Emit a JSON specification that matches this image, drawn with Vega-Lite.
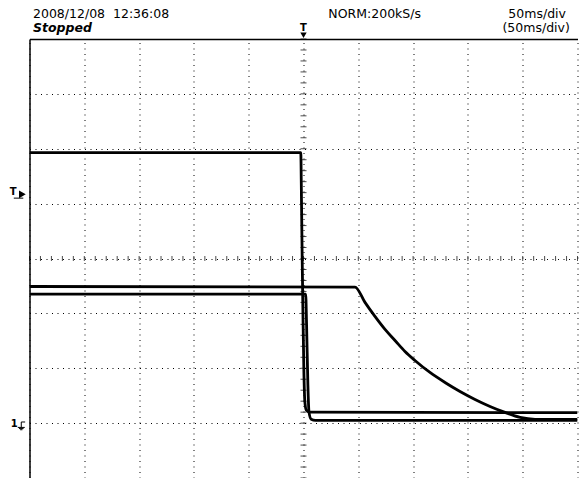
{
  "$schema": "https://vega.github.io/schema/vega-lite/v6.json",
  "width": 548,
  "height": 439,
  "autosize": {"type": "none"},
  "padding": {"left": 29.5, "top": 39, "right": 2.5, "bottom": 0},
  "background": "white",
  "config": {"view": {"stroke": null}, "font": "DejaVu Sans"},
  "resolve": {"axis": {"x": "independent", "y": "independent"}},
  "layer": [
    {
      "data": {"values": [{"t": 0, "v": 0}]},
      "mark": {"type": "point", "opacity": 0},
      "encoding": {
        "x": {"field": "t", "type": "quantitative", "scale": {"domain": [-250, 250], "nice": false, "zero": false},
          "axis": {"orient": "top", "values": [-250, -200, -150, -100, -50, 0, 50, 100, 150, 200, 250], "grid": true, "gridDash": [1, 4.5], "gridColor": "#000", "gridOpacity": 1, "gridWidth": 1, "labels": false, "ticks": false, "domain": true, "domainColor": "#000", "domainWidth": 1.5, "title": null}},
        "y": {"field": "v", "type": "quantitative", "scale": {"domain": [-4, 4], "nice": false, "zero": false},
          "axis": {"orient": "left", "values": [-4, -3, -2, -1, 0, 1, 2, 3, 4], "grid": true, "gridDash": [1, 4.5], "gridColor": "#000", "gridOpacity": 1, "gridWidth": 1, "labels": false, "ticks": false, "domain": true, "domainColor": "#000", "domainWidth": 1.5, "title": null}}
      }
    },
    {
      "mark": {"type": "rule", "color": "#555", "strokeWidth": 1.5},
      "encoding": {"x": {"datum": 250, "type": "quantitative", "scale": {"domain": [-250, 250], "nice": false, "zero": false}, "axis": null}}
    },
    {
      "data": {"values": [
        {"t": -250}, {"t": -240}, {"t": -230}, {"t": -220}, {"t": -210}, {"t": -200}, {"t": -190}, {"t": -180}, {"t": -170}, {"t": -160},
        {"t": -150}, {"t": -140}, {"t": -130}, {"t": -120}, {"t": -110}, {"t": -100}, {"t": -90}, {"t": -80}, {"t": -70}, {"t": -60},
        {"t": -50}, {"t": -40}, {"t": -30}, {"t": -20}, {"t": -10}, {"t": 0}, {"t": 10}, {"t": 20}, {"t": 30}, {"t": 40},
        {"t": 50}, {"t": 60}, {"t": 70}, {"t": 80}, {"t": 90}, {"t": 100}, {"t": 110}, {"t": 120}, {"t": 130}, {"t": 140},
        {"t": 150}, {"t": 160}, {"t": 170}, {"t": 180}, {"t": 190}, {"t": 200}, {"t": 210}, {"t": 220}, {"t": 230}, {"t": 240}, {"t": 250}
      ]},
      "mark": {"type": "tick", "orient": "vertical", "size": 5, "thickness": 1, "color": "#000"},
      "encoding": {
        "x": {"field": "t", "type": "quantitative", "scale": {"domain": [-250, 250], "nice": false, "zero": false}, "axis": null},
        "y": {"datum": 0, "type": "quantitative", "scale": {"domain": [-4, 4], "nice": false, "zero": false}, "axis": null}
      }
    },
    {
      "data": {"values": [
        {"v": -4}, {"v": -3.8}, {"v": -3.6}, {"v": -3.4}, {"v": -3.2}, {"v": -3}, {"v": -2.8}, {"v": -2.6}, {"v": -2.4}, {"v": -2.2},
        {"v": -2}, {"v": -1.8}, {"v": -1.6}, {"v": -1.4}, {"v": -1.2}, {"v": -1}, {"v": -0.8}, {"v": -0.6}, {"v": -0.4}, {"v": -0.2},
        {"v": 0}, {"v": 0.2}, {"v": 0.4}, {"v": 0.6}, {"v": 0.8}, {"v": 1}, {"v": 1.2}, {"v": 1.4}, {"v": 1.6}, {"v": 1.8},
        {"v": 2}, {"v": 2.2}, {"v": 2.4}, {"v": 2.6}, {"v": 2.8}, {"v": 3}, {"v": 3.2}, {"v": 3.4}, {"v": 3.6}, {"v": 3.8}, {"v": 4}
      ]},
      "mark": {"type": "tick", "orient": "horizontal", "size": 6, "thickness": 1, "color": "#000"},
      "encoding": {
        "x": {"datum": 0, "type": "quantitative", "scale": {"domain": [-250, 250], "nice": false, "zero": false}, "axis": null},
        "y": {"field": "v", "type": "quantitative", "scale": {"domain": [-4, 4], "nice": false, "zero": false}, "axis": null}
      }
    },
    {
      "data": {"values": [
        {"trace": "A", "t": -250, "v": 1.93}, {"trace": "A", "t": -2.5, "v": 1.93}, {"trace": "A", "t": -1.8, "v": 1.0}, {"trace": "A", "t": -1.2, "v": 0}, {"trace": "A", "t": -0.5, "v": -1.0}, {"trace": "A", "t": 0.3, "v": -2.0}, {"trace": "A", "t": 1.2, "v": -2.6}, {"trace": "A", "t": 2.5, "v": -2.76}, {"trace": "A", "t": 6, "v": -2.8}, {"trace": "A", "t": 250, "v": -2.81},
        {"trace": "B", "t": -250, "v": -0.51}, {"trace": "B", "t": 47, "v": -0.52}, {"trace": "B", "t": 56.1, "v": -0.8}, {"trace": "B", "t": 65.2, "v": -1.056}, {"trace": "B", "t": 74.4, "v": -1.293}, {"trace": "B", "t": 83.5, "v": -1.494}, {"trace": "B", "t": 92.6, "v": -1.694}, {"trace": "B", "t": 101.7, "v": -1.858}, {"trace": "B", "t": 115.4, "v": -2.077}, {"trace": "B", "t": 129.1, "v": -2.259}, {"trace": "B", "t": 142.8, "v": -2.423}, {"trace": "B", "t": 156.5, "v": -2.568}, {"trace": "B", "t": 170.2, "v": -2.696}, {"trace": "B", "t": 183.9, "v": -2.805}, {"trace": "B", "t": 197.6, "v": -2.896}, {"trace": "B", "t": 211.3, "v": -2.93}, {"trace": "B", "t": 250, "v": -2.93},
        {"trace": "C", "t": -250, "v": -0.65}, {"trace": "C", "t": 2, "v": -0.65}, {"trace": "C", "t": 2.8, "v": -1.2}, {"trace": "C", "t": 4, "v": -2.3}, {"trace": "C", "t": 5, "v": -2.8}, {"trace": "C", "t": 7, "v": -2.93}, {"trace": "C", "t": 11, "v": -2.95}, {"trace": "C", "t": 250, "v": -2.95}
      ]},
      "mark": {"type": "line", "color": "#000", "strokeWidth": 2.8, "interpolate": "monotone", "clip": true},
      "encoding": {
        "x": {"field": "t", "type": "quantitative", "scale": {"domain": [-250, 250], "nice": false, "zero": false}, "axis": null},
        "y": {"field": "v", "type": "quantitative", "scale": {"domain": [-4, 4], "nice": false, "zero": false}, "axis": null},
        "detail": {"field": "trace", "type": "nominal"}
      }
    },
    {
      "data": {"values": [{"label": "2008/12/08\u00a0 12:36:08", "t": -246.8, "v": 4.39}]},
      "mark": {"type": "text", "align": "left", "baseline": "alphabetic", "fontSize": 12.5, "color": "#000"},
      "encoding": {
        "x": {"field": "t", "type": "quantitative", "scale": {"domain": [-250, 250], "nice": false, "zero": false}, "axis": null},
        "y": {"field": "v", "type": "quantitative", "scale": {"domain": [-4, 4], "nice": false, "zero": false}, "axis": null},
        "text": {"field": "label"}
      }
    },
    {
      "data": {"values": [{"label": "Stopped", "t": -246.8, "v": 4.12}]},
      "mark": {"type": "text", "align": "left", "baseline": "alphabetic", "fontSize": 12.5, "fontStyle": "italic", "fontWeight": "bold", "color": "#000"},
      "encoding": {
        "x": {"field": "t", "type": "quantitative", "scale": {"domain": [-250, 250], "nice": false, "zero": false}, "axis": null},
        "y": {"field": "v", "type": "quantitative", "scale": {"domain": [-4, 4], "nice": false, "zero": false}, "axis": null},
        "text": {"field": "label"}
      }
    },
    {
      "data": {"values": [
        {"label": "NORM:200kS/s", "t": 107.2, "v": 4.39},
        {"label": "50ms/div", "t": 239.5, "v": 4.39},
        {"label": "(50ms/div)", "t": 243, "v": 4.12}
      ]},
      "mark": {"type": "text", "align": "right", "baseline": "alphabetic", "fontSize": 12.5, "color": "#000"},
      "encoding": {
        "x": {"field": "t", "type": "quantitative", "scale": {"domain": [-250, 250], "nice": false, "zero": false}, "axis": null},
        "y": {"field": "v", "type": "quantitative", "scale": {"domain": [-4, 4], "nice": false, "zero": false}, "axis": null},
        "text": {"field": "label"}
      }
    },
    {
      "data": {"values": [
        {"label": "T", "t": 0, "v": 4.2},
        {"label": "T", "t": -265, "v": 1.22},
        {"label": "1", "t": -264, "v": -3.02}
      ]},
      "mark": {"type": "text", "align": "center", "baseline": "middle", "fontSize": 10, "fontWeight": "bold", "color": "#000"},
      "encoding": {
        "x": {"field": "t", "type": "quantitative", "scale": {"domain": [-250, 250], "nice": false, "zero": false}, "axis": null},
        "y": {"field": "v", "type": "quantitative", "scale": {"domain": [-4, 4], "nice": false, "zero": false}, "axis": null},
        "text": {"field": "label"}
      }
    },
    {
      "data": {"values": [{"t": 0, "v": 4.07}]},
      "mark": {"type": "point", "shape": "triangle-down", "filled": true, "size": 40, "color": "#000", "opacity": 1},
      "encoding": {
        "x": {"field": "t", "type": "quantitative", "scale": {"domain": [-250, 250], "nice": false, "zero": false}, "axis": null},
        "y": {"field": "v", "type": "quantitative", "scale": {"domain": [-4, 4], "nice": false, "zero": false}, "axis": null}
      }
    },
    {
      "data": {"values": [{"t": -256.5, "v": 1.17}]},
      "mark": {"type": "point", "shape": "triangle-right", "filled": true, "size": 60, "color": "#000", "opacity": 1},
      "encoding": {
        "x": {"field": "t", "type": "quantitative", "scale": {"domain": [-250, 250], "nice": false, "zero": false}, "axis": null},
        "y": {"field": "v", "type": "quantitative", "scale": {"domain": [-4, 4], "nice": false, "zero": false}, "axis": null}
      }
    },
    {
      "data": {"values": [{"t": -260, "v": 1.1}]},
      "mark": {"type": "point", "shape": "M-1,0L1,0", "filled": false, "size": 90, "color": "#000", "strokeWidth": 1, "opacity": 1},
      "encoding": {
        "x": {"field": "t", "type": "quantitative", "scale": {"domain": [-250, 250], "nice": false, "zero": false}, "axis": null},
        "y": {"field": "v", "type": "quantitative", "scale": {"domain": [-4, 4], "nice": false, "zero": false}, "axis": null}
      }
    },
    {
      "data": {"values": [{"t": -257.5, "v": -3.05}]},
      "mark": {"type": "point", "shape": "M1,-1L0,-1L0,0.4M-0.9,0.4L0.9,0.4M-0.6,0.7L0.6,0.7M-0.3,1L0.3,1", "filled": false, "size": 60, "color": "#000", "strokeWidth": 1, "opacity": 1},
      "encoding": {
        "x": {"field": "t", "type": "quantitative", "scale": {"domain": [-250, 250], "nice": false, "zero": false}, "axis": null},
        "y": {"field": "v", "type": "quantitative", "scale": {"domain": [-4, 4], "nice": false, "zero": false}, "axis": null}
      }
    }
  ]
}
